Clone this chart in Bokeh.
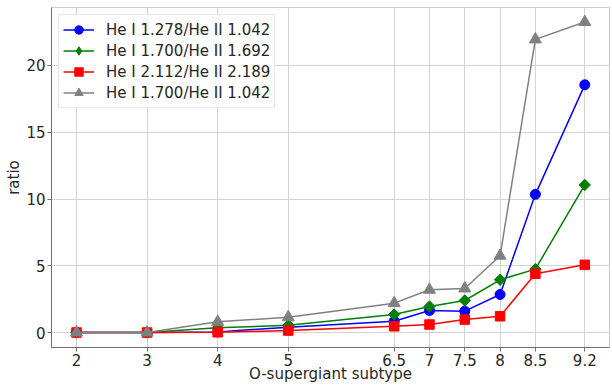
import numpy as np
from bokeh.plotting import figure
from bokeh.models import FixedTicker, Range1d, Legend
from bokeh.embed import file_html
from bokeh.resources import INLINE

subtype = [2, 3, 4, 5, 6.5, 7, 7.5, 8, 8.5, 9.2]
tick_labels = ["2", "3", "4", "5", "6.5", "7", "7.5", "8", "8.5", "9.2"]
y_ticks = [0, 5, 10, 15, 20]

ratio_1278_1042 = [0.0, 0.0, 0.05, 0.4, 0.85, 1.65, 1.6, 2.85, 10.35, 18.55]
ratio_1700_1692 = [0.0, 0.0, 0.35, 0.55, 1.35, 1.95, 2.4, 3.95, 4.75, 11.05]
ratio_2112_2189 = [0.0, 0.0, 0.02, 0.15, 0.47, 0.6, 0.97, 1.22, 4.4, 5.07]
ratio_1700_1042 = [0.0, 0.0, 0.8, 1.15, 2.2, 3.2, 3.3, 5.75, 21.95, 23.25]

series_labels = ["He I 1.278/He II 1.042", "He I 1.700/He II 1.692",
                 "He I 2.112/He II 2.189", "He I 1.700/He II 1.042"]
x_title = "O-supergiant subtype"
y_title = "ratio"

FONT = "DejaVu Sans"

p = figure(width=612, height=385, output_backend="svg",
           toolbar_location=None, min_border_left=51, min_border_right=3,
           min_border_top=7, min_border_bottom=38,
           x_range=Range1d(1.646, 9.55), y_range=Range1d(-1.12, 24.34))

p.background_fill_color = "white"
p.outline_line_color = "#cccccc"
p.outline_line_width = 1

for ax in (p.xaxis, p.yaxis):
    ax.axis_line_color = "#707070"
    ax.major_tick_line_color = "#707070"
    ax.major_tick_out = 4
    ax.major_tick_in = 0
    ax.minor_tick_line_color = None
    ax.major_label_text_font = FONT
    ax.major_label_text_font_size = "15px"
    ax.major_label_text_color = "#262626"
    ax.major_label_standoff = 2
    ax.axis_label_text_font = FONT
    ax.axis_label_text_font_size = "15px"
    ax.axis_label_text_font_style = "normal"
    ax.axis_label_text_color = "#262626"

p.xaxis.ticker = FixedTicker(ticks=subtype)
p.xaxis.major_label_overrides = {t: s for t, s in zip(subtype, tick_labels)}
p.yaxis.ticker = FixedTicker(ticks=y_ticks)
p.xaxis.axis_label = x_title
p.yaxis.axis_label = y_title
p.xaxis.axis_label_standoff = -4
p.yaxis.axis_label_standoff = 0

p.xgrid.ticker = FixedTicker(ticks=subtype)
p.ygrid.ticker = FixedTicker(ticks=y_ticks)
for g in (p.xgrid, p.ygrid):
    g.grid_line_color = "#d3d3d3"
    g.grid_line_width = 1

specs = [
    (ratio_1278_1042, "#0000ff", "circle", 10, 0.0, "circle"),
    (ratio_1700_1692, "#008000", "square", 8, np.pi / 4, "diamond"),
    (ratio_2112_2189, "#ff0000", "square", 9.5, 0.0, "square"),
    (ratio_1700_1042, "#808080", "triangle", 12, 0.0, "triangle"),
]
legend_items = []
for (vals, color, marker, size, angle, leg_marker), lab in zip(specs, series_labels):
    l = p.line(subtype, vals, line_color=color, line_width=1.5)
    s = p.scatter(subtype, vals, marker=marker, size=size, angle=angle,
                  fill_color=color, line_color=color)
    if leg_marker != marker:
        s_leg = p.scatter(x=[np.nan], y=[np.nan], marker=leg_marker, size=size,
                          fill_color=color, line_color=color)
        legend_items.append((lab, [l, s_leg]))
    else:
        legend_items.append((lab, [l, s]))

legend = Legend(items=legend_items, location="top_left")
legend.label_text_font = FONT
legend.label_text_font_size = "15px"
legend.label_text_color = "#262626"
legend.glyph_width = 31
legend.glyph_height = 21
legend.label_height = 21
legend.spacing = 0
legend.padding = 4
legend.margin = 7
legend.label_standoff = 12
legend.border_line_color = "#d0d0d0"
legend.border_line_width = 1
legend.background_fill_alpha = 0.85
p.add_layout(legend)

open("out.html", "w").write(file_html(p, INLINE))
